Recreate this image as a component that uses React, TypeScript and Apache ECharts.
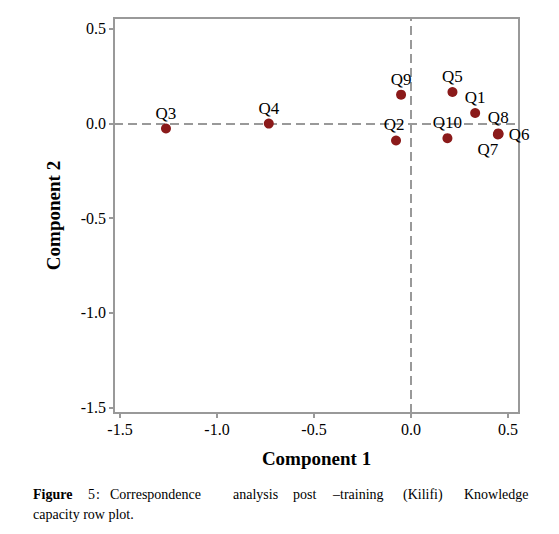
import React, { useEffect, useRef } from "react";
import * as echarts from "echarts";

const labels = ["Q1", "Q2", "Q3", "Q4", "Q5", "Q6", "Q7", "Q8", "Q9", "Q10"];
const comp1 = [0.331, -0.077, -1.263, -0.733, 0.214, 0.452, 0.448, 0.45, -0.051, 0.188];
const comp2 = [0.056, -0.089, -0.026, 0.0, 0.167, -0.055, -0.057, -0.052, 0.153, -0.077];
const tickValues = [-1.5, -1.0, -0.5, 0.0, 0.5];
const xTitle = "Component 1";
const yTitle = "Component 2";
const captionLine1 = [
  { t: "Figure", bold: true, x: 33 },
  { t: "5", bold: false, x: 88 },
  { t: ":", bold: false, x: 96 },
  { t: "Correspondence", bold: false, x: 110 },
  { t: "analysis", bold: false, x: 233 },
  { t: "post", bold: false, x: 293 },
  { t: "–training", bold: false, x: 333 },
  { t: "(Kilifi)", bold: false, x: 403 },
  { t: "Knowledge", bold: false, x: 464 },
];
const captionLine2 = "capacity row plot.";

const FONT = "'Liberation Serif', 'DejaVu Serif', serif";
const GRAY = "#999999";
const RED = "#8b1a1a";

function labelFor(name: string) {
  if (name === "Q6") return { position: "right", distance: 5 };
  if (name === "Q7") return { position: "bottom", distance: 2, offset: [-10, 0] };
  if (name === "Q2") return { position: "top", distance: 2, offset: [-2, 0] };
  return { position: "top", distance: 2 };
}

export default function App() {
  const ref = useRef<HTMLDivElement>(null);
  useEffect(() => {
    if (!ref.current) return;
    const chart = echarts.init(ref.current, undefined, { renderer: "svg" });
    const data = labels.map((n, i) => ({
      name: n,
      value: [comp1[i], comp2[i]],
      label: labelFor(n),
    }));
    const axisCommon = {
      type: "value",
      axisLine: { show: true, onZero: false, lineStyle: { color: GRAY, width: 2 } },
      axisTick: { show: true, customValues: tickValues, length: 5, lineStyle: { color: GRAY, width: 2 } },
      axisLabel: {
        customValues: tickValues,
        formatter: (v: number) => v.toFixed(1),
        color: "#000",
        fontFamily: FONT,
        fontSize: 16,
        margin: 8,
      },
      splitLine: { show: false },
      nameLocation: "middle",
      nameTextStyle: { fontFamily: FONT, fontSize: 19, fontWeight: "bold", color: "#000" },
    };
    chart.setOption({
      animation: false,
      backgroundColor: "#fff",
      grid: {
        left: 114,
        right: 40,
        top: 18,
        bottom: 121,
        show: true,
        borderColor: GRAY,
        borderWidth: 2,
      },
      xAxis: { ...axisCommon, min: -1.531, max: 0.557, name: xTitle, nameGap: 36 },
      yAxis: { ...axisCommon, min: -1.529, max: 0.558, name: yTitle, nameGap: 51 },
      graphic: [
        ...captionLine1.map((w) => ({
          type: "text",
          left: w.x,
          top: 487,
          style: {
            text: w.t,
            font: `${w.bold ? "bold " : ""}14px ${FONT}`,
            fill: "#000",
          },
        })),
        {
          type: "text",
          left: 33,
          top: 507,
          style: { text: captionLine2, font: `14px ${FONT}`, fill: "#000" },
        },
      ],
      series: [
        {
          type: "scatter",
          data: [],
          silent: true,
          z: 1,
          markLine: {
            silent: true,
            symbol: "none",
            label: { show: false },
            lineStyle: { color: GRAY, width: 2, type: [9, 5] },
            data: [{ xAxis: 0 }, { yAxis: 0 }],
          },
        },
        {
          type: "scatter",
          symbol: "circle",
          symbolSize: 10,
          itemStyle: { color: RED, opacity: 1 },
          label: {
            show: true,
            formatter: "{b}",
            color: "#000",
            fontFamily: FONT,
            fontSize: 17,
          },
          data,
          z: 5,
        },
      ],
    });
    return () => chart.dispose();
  }, []);
  return (
    <div
      ref={ref}
      style={{ position: "fixed", left: 0, top: 0, width: 559, height: 534 }}
    />
  );
}
